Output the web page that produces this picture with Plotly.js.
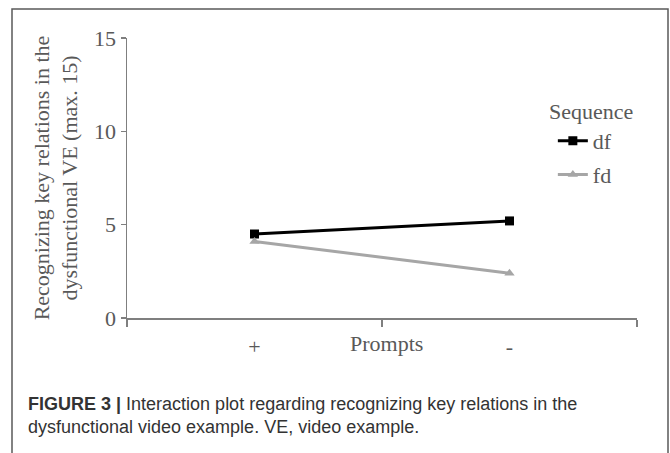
<!DOCTYPE html>
<html>
<head>
<meta charset="utf-8">
<script src="https://cdn.plot.ly/plotly-3.0.1.min.js"></script>
<style>
html,body{margin:0;padding:0;background:#fff;}
#chart{width:670px;height:453px;}
</style>
</head>
<body>
<div id="chart"></div>
<script>
const categories = ['+', '-'];
const seriesNames = ['df', 'fd'];
const dfValues = [4.5, 5.2];
const fdValues = [4.1, 2.4];
const yTicks = [0, 5, 10, 15];
const yTitle = 'Recognizing key relations in the<br>dysfunctional VE (max. 15)';
const xTitle = 'Prompts';
const legendTitle = 'Sequence';
const captionBold = 'FIGURE 3 |';
const captionLine1 = ' Interaction plot regarding recognizing key relations in the';
const captionLine2 = 'dysfunctional video example. VE, video example.';

const serif = '"Liberation Serif", "Times New Roman", serif';
const gray = '#595959';

const traces = [
  {
    x: categories, y: dfValues, name: seriesNames[0], type: 'scatter', mode: 'lines+markers',
    legendgroup: 'g1',
    line: {color: '#000000', width: 3},
    marker: {symbol: 'square', size: 9, color: '#000000'}
  },
  {
    x: categories, y: fdValues, name: seriesNames[1], type: 'scatter', mode: 'lines+markers',
    legendgroup: 'g2',
    line: {color: '#a6a6a6', width: 3},
    marker: {symbol: 'triangle-up', size: 9, color: '#a6a6a6'}
  }
];

const layout = {
  width: 670, height: 453,
  margin: {l: 127, r: 33, t: 38, b: 135},
  paper_bgcolor: '#ffffff', plot_bgcolor: '#ffffff',
  showlegend: true,
  font: {family: serif, color: gray, size: 22},
  xaxis: {
    type: 'category', range: [-0.5, 1.5],
    showline: true, linecolor: '#7f7f7f', linewidth: 1.5,
    ticks: 'outside', tickson: 'boundaries', ticklen: 7, tickcolor: '#7f7f7f', tickwidth: 1.5,
    showgrid: false, zeroline: false,
    tickfont: {family: serif, size: 22, color: gray},
    ticklabelstandoff: 8
  },
  yaxis: {
    range: [0, 15], tickvals: yTicks,
    showline: true, linecolor: '#7f7f7f', linewidth: 1.5,
    ticks: 'outside', ticklen: 5, tickcolor: '#7f7f7f', tickwidth: 1.5,
    showgrid: false, zeroline: false,
    tickfont: {family: serif, size: 22, color: gray},
    title: {text: yTitle, font: {family: serif, size: 22, color: gray}, standoff: 10}
  },
  legend: {
    x: 0.835, y: 0.707, xanchor: 'left', yanchor: 'top',
    font: {family: serif, size: 22, color: gray},
    bgcolor: 'rgba(0,0,0,0)', itemwidth: 30, traceorder: 'grouped', tracegroupgap: 2
  },
  annotations: [
    {xref: 'paper', yref: 'paper', x: (591 - 127) / 510, y: (318 - 112) / 280, xanchor: 'center', yanchor: 'middle',
     text: legendTitle, showarrow: false, font: {family: serif, size: 22, color: gray}},
    {xref: 'paper', yref: 'paper', x: (386 - 127) / 510, y: (318 - 343) / 280, xanchor: 'center', yanchor: 'middle',
     text: xTitle, showarrow: false, font: {family: serif, size: 22, color: gray}},
    {xref: 'paper', yref: 'paper', x: (26 - 127) / 510, y: (318 - 392) / 280, xanchor: 'left', yanchor: 'top',
     align: 'left', showarrow: false,
     text: '<b>' + captionBold + '</b>' + captionLine1 + '<br>' + captionLine2,
     font: {family: '"Liberation Sans", Arial, sans-serif', size: 18, color: '#333333'}}
  ],
  shapes: [
    {type: 'rect', xref: 'paper', yref: 'paper',
     x0: (12 - 127) / 510, x1: (668 - 127) / 510, y0: (318 - 470) / 280, y1: (318 - 9) / 280,
     line: {color: '#5a5a5a', width: 1.5}, fillcolor: 'rgba(0,0,0,0)', layer: 'below'}
  ]
};

Plotly.newPlot('chart', traces, layout, {displayModeBar: false, staticPlot: true});
</script>
</body>
</html>
